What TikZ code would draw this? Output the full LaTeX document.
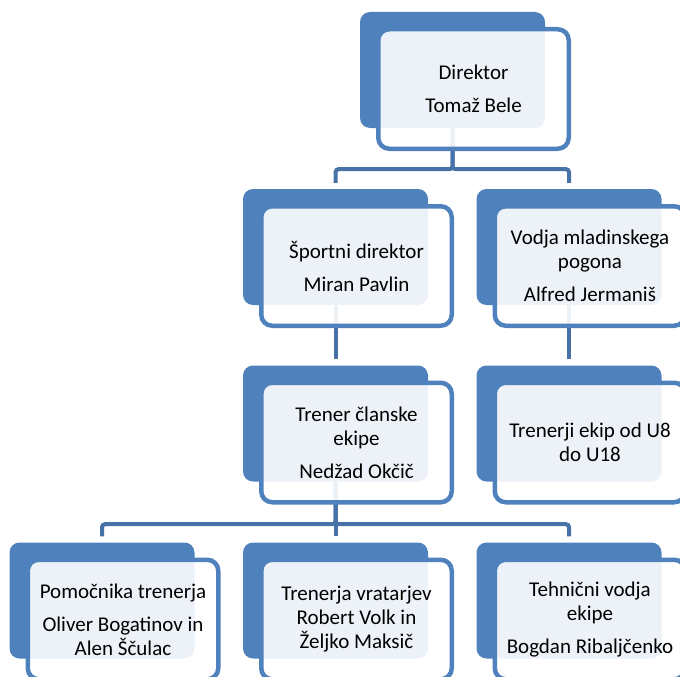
\documentclass[tikz,border=0pt]{standalone}
\usepackage{fontspec}
\setmainfont{Carlito}
\definecolor{boxblue}{HTML}{4F81BD}
\definecolor{linkblue}{HTML}{4672A8}
\begin{document}
\begin{tikzpicture}[x=1pt,y=-1pt,
  back/.style={fill=boxblue,rounded corners=10pt,minimum width=185pt,minimum height=116pt,inner sep=0pt},
  front/.style={draw=boxblue,line width=4.5pt,fill=white,fill opacity=0.9,text opacity=1,
    rounded corners=11pt,minimum width=190.5pt,minimum height=119.5pt,inner sep=0pt,
    align=center,font=\fontsize{21}{24}\selectfont},
  link/.style={draw=linkblue,line width=4pt,rounded corners=3pt}]
\useasboundingbox (0,0) rectangle (680,677);
% blue back plates
\node[back] (dirB) at (452.5,70) {};
\node[back] (sportB) at (335.5,247) {};
\node[back] (vodjaB) at (569,247) {};
\node[back] (trenerB) at (335.5,423.5) {};
\node[back] (ekipeB) at (569,423.5) {};
\node[back] (pomB) at (102,600.5) {};
\node[back] (vratB) at (335.5,600.5) {};
\node[back] (tehB) at (569,600.5) {};
% connectors
\draw[link,shorten >=6pt] (dirB.south) -- ++(0,41) -| (sportB.north);
\draw[link,shorten >=6pt] (dirB.south) -- ++(0,41) -| (vodjaB.north);
\draw[link,shorten >=6pt] (sportB.south) -- (trenerB.north);
\draw[link,shorten >=6pt] (vodjaB.south) -- (ekipeB.north);
\draw[link,shorten >=6pt] (trenerB.south) -- ++(0,42.5) -| (pomB.north);
\draw[link,shorten >=6pt] (trenerB.south) -- (vratB.north);
\draw[link,shorten >=6pt] (trenerB.south) -- ++(0,42.5) -| (tehB.north);
% text boxes
\node[front] (dir) at ([shift={(21,19)}]dirB.center) {Direktor\\[9pt]Tomaž Bele};
\node[front] (sport) at ([shift={(21,19)}]sportB.center) {Športni direktor\\[9pt]Miran Pavlin};
\node[front] (vodja) at ([shift={(21,19)}]vodjaB.center) {Vodja mladinskega\\pogona\\[9pt]Alfred Jermaniš};
\node[front] (trener) at ([shift={(21,19)}]trenerB.center) {Trener članske\\ekipe\\[9pt]Nedžad Okčič};
\node[front] (ekipe) at ([shift={(21,19)}]ekipeB.center) {Trenerji ekip od U8\\do U18};
\node[front] (pom) at ([shift={(21,19)}]pomB.center) {Pomočnika trenerja\\[9pt]Oliver Bogatinov in\\Alen Ščulac};
\node[front] (vrat) at ([shift={(21,19)}]vratB.center) {Trenerja vratarjev\\Robert Volk in\\Željko Maksič};
\node[front] (teh) at ([shift={(21,19)}]tehB.center) {Tehnični vodja\\ekipe\\[9pt]Bogdan Ribaljčenko};
\end{tikzpicture}
\end{document}
